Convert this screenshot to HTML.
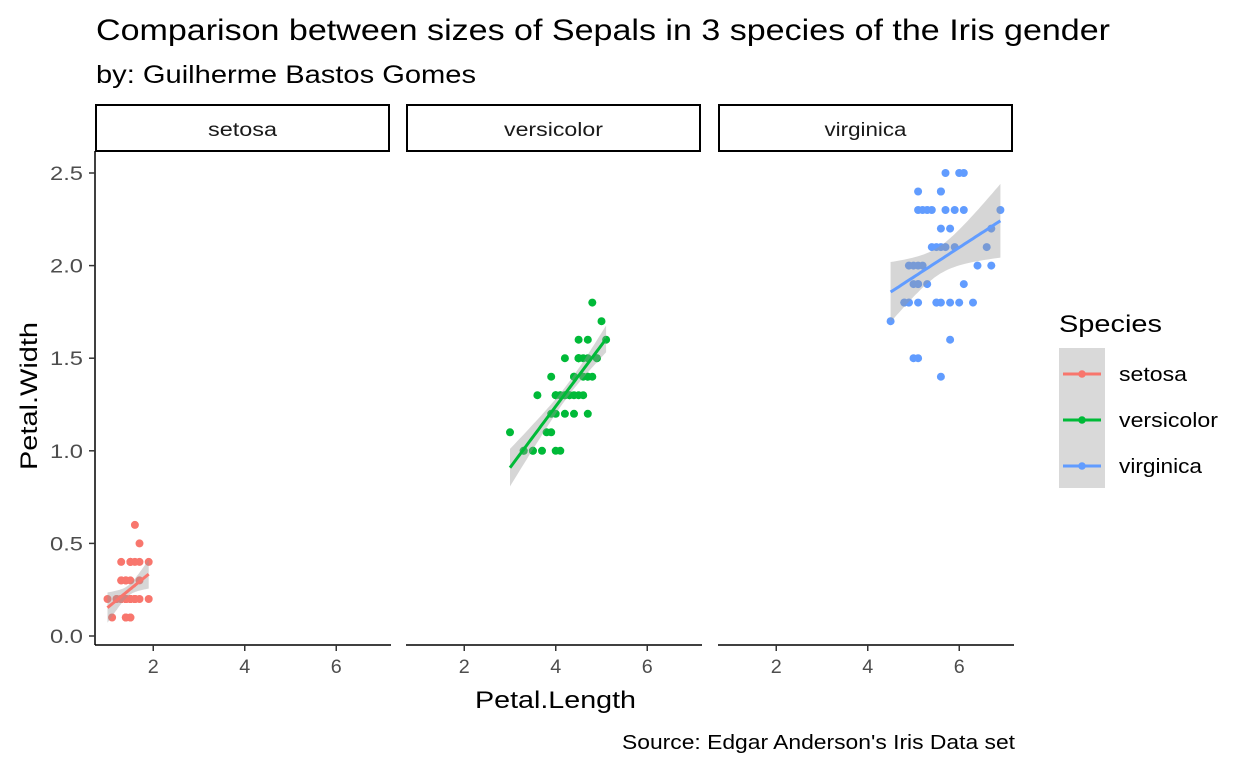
<!DOCTYPE html>
<html><head><meta charset="utf-8"><style>
html,body{margin:0;padding:0;background:#fff;}
svg{display:block;font-family:"Liberation Sans",Arial,sans-serif;}
</style></head><body>
<svg id="s" width="1248" height="768" viewBox="0 0 1248 768" xmlns="http://www.w3.org/2000/svg">
<rect width="1248" height="768" fill="#fff"/>
<text x="96" y="40" font-size="30" fill="#000" textLength="1014" lengthAdjust="spacingAndGlyphs">Comparison between sizes of Sepals in 3 species of the Iris gender</text>
<text x="96" y="83" font-size="25" fill="#000" textLength="380" lengthAdjust="spacingAndGlyphs">by: Guilherme Bastos Gomes</text>
<g id="panels"></g>
<text x="475" y="708" font-size="24" textLength="161" lengthAdjust="spacingAndGlyphs">Petal.Length</text>
<text transform="translate(37,470) rotate(-90)" font-size="24" textLength="148" lengthAdjust="spacingAndGlyphs">Petal.Width</text>
<text x="622" y="749" font-size="20" textLength="393" lengthAdjust="spacingAndGlyphs">Source: Edgar Anderson's Iris Data set</text>
<text x="1059" y="332" font-size="24" textLength="103" lengthAdjust="spacingAndGlyphs">Species</text>
<rect x="1059" y="348" width="46" height="140" fill="#d9d9d9"/>
<g stroke-width="3">
<line x1="1063" y1="374" x2="1101" y2="374" stroke="#F8766D"/><circle cx="1082" cy="374" r="3.8" fill="#F8766D"/>
<line x1="1063" y1="420" x2="1101" y2="420" stroke="#00BA38"/><circle cx="1082" cy="420" r="3.8" fill="#00BA38"/>
<line x1="1063" y1="466" x2="1101" y2="466" stroke="#619CFF"/><circle cx="1082" cy="466" r="3.8" fill="#619CFF"/>
</g>
<text x="1119" y="381" font-size="20" textLength="68" lengthAdjust="spacingAndGlyphs">setosa</text>
<text x="1119" y="427" font-size="20" textLength="99" lengthAdjust="spacingAndGlyphs">versicolor</text>
<text x="1119" y="473" font-size="20" textLength="83" lengthAdjust="spacingAndGlyphs">virginica</text>
</svg>
<script>
var S="1.4 0.2,1.4 0.2,1.3 0.2,1.5 0.2,1.4 0.2,1.7 0.4,1.4 0.3,1.5 0.2,1.4 0.2,1.5 0.1,1.5 0.2,1.6 0.2,1.4 0.1,1.1 0.1,1.2 0.2,1.5 0.4,1.3 0.4,1.4 0.3,1.7 0.3,1.5 0.3,1.7 0.2,1.5 0.4,1.0 0.2,1.7 0.5,1.9 0.2,1.6 0.2,1.6 0.4,1.5 0.2,1.4 0.2,1.6 0.2,1.6 0.2,1.5 0.4,1.5 0.1,1.4 0.2,1.5 0.2,1.2 0.2,1.3 0.2,1.4 0.1,1.3 0.2,1.5 0.2,1.3 0.3,1.3 0.3,1.3 0.2,1.6 0.6,1.9 0.4,1.4 0.3,1.6 0.2,1.4 0.2,1.5 0.2,1.4 0.2";
var V="4.7 1.4,4.5 1.5,4.9 1.5,4.0 1.3,4.6 1.5,4.5 1.3,4.7 1.6,3.3 1.0,4.6 1.3,3.9 1.4,3.5 1.0,4.2 1.5,4.0 1.0,4.7 1.4,3.6 1.3,4.4 1.4,4.5 1.5,4.1 1.0,4.5 1.5,3.9 1.1,4.8 1.8,4.0 1.3,4.9 1.5,4.7 1.2,4.3 1.3,4.4 1.4,4.8 1.4,5.0 1.7,4.5 1.5,3.5 1.0,3.8 1.1,3.7 1.0,3.9 1.2,5.1 1.6,4.5 1.5,4.5 1.6,4.7 1.5,4.4 1.3,4.1 1.3,4.0 1.3,4.4 1.2,4.6 1.4,4.0 1.2,3.3 1.0,4.2 1.3,4.2 1.2,4.2 1.3,4.3 1.3,3.0 1.1,4.1 1.3";
var G="6.0 2.5,5.1 1.9,5.9 2.1,5.6 1.8,5.8 2.2,6.6 2.1,4.5 1.7,6.3 1.8,5.8 1.8,6.1 2.5,5.1 2.0,5.3 1.9,5.5 2.1,5.0 2.0,5.1 2.4,5.3 2.3,5.5 1.8,6.7 2.2,6.9 2.3,5.0 1.5,5.7 2.3,4.9 2.0,6.7 2.0,4.9 1.8,5.7 2.1,6.0 1.8,4.8 1.8,4.9 1.8,5.6 2.1,5.8 1.6,6.1 1.9,6.4 2.0,5.6 2.2,5.1 1.5,5.6 1.4,6.1 2.3,5.6 2.4,5.5 1.8,4.8 1.8,5.4 2.1,5.6 2.4,5.1 2.3,5.1 1.9,5.9 2.3,5.7 2.5,5.2 2.3,5.0 1.9,5.2 2.0,5.4 2.3,5.1 1.8";
var data=[[S,"#F8766D","setosa",94,69],[V,"#00BA38","versicolor",405,99],[G,"#619CFF","virginica",717,82]];
var k=45.75,ky=185.2;
function Y(v){return 636-ky*v;}
var h="";
data.forEach(function(d,i){
 var x0=d[3],X=function(v){return x0+(v-0.705)*k;};
 var pts=d[0].split(",").map(function(p){return p.split(" ").map(Number);});
 var n=pts.length,mx=0,my=0;pts.forEach(function(p){mx+=p[0];my+=p[1];});mx/=n;my/=n;
 var sxx=0,sxy=0;pts.forEach(function(p){sxx+=(p[0]-mx)*(p[0]-mx);sxy+=(p[0]-mx)*(p[1]-my);});
 var b=sxy/sxx,a=my-b*mx,sse=0;pts.forEach(function(p){var r=p[1]-a-b*p[0];sse+=r*r;});
 var s=Math.sqrt(sse/(n-2));
 var lo=Math.min.apply(null,pts.map(function(p){return p[0];})),hi=Math.max.apply(null,pts.map(function(p){return p[0];}));
 var up=[],dn=[],ln=[];
 for(var j=0;j<=40;j++){var x=lo+(hi-lo)*j/40,yh=a+b*x,se=2.01*s*Math.sqrt(1/n+(x-mx)*(x-mx)/sxx);
  up.push(X(x).toFixed(1)+","+Y(yh+se).toFixed(1));dn.unshift(X(x).toFixed(1)+","+Y(yh-se).toFixed(1));ln.push(X(x).toFixed(1)+","+Y(yh).toFixed(1));}
 var pw=297;
 h+='<rect x="'+(x0+2)+'" y="105" width="'+(pw-4)+'" height="46" fill="#fff" stroke="#000" stroke-width="2"/>';
 h+='<text x="'+(x0+pw/2-d[4]/2)+'" y="136" font-size="19" fill="#1a1a1a" textLength="'+d[4]+'" lengthAdjust="spacingAndGlyphs">'+d[2]+'</text>';
 h+='<line x1="'+(x0+1)+'" y1="645" x2="'+(x0+pw)+'" y2="645" stroke="#000" stroke-width="1.5"/>';
 [2,4,6].forEach(function(t){var tx=X(t);h+='<line x1="'+tx+'" y1="645" x2="'+tx+'" y2="651" stroke="#333" stroke-width="1.5"/><text x="'+(tx-5.5)+'" y="673" font-size="19" fill="#4d4d4d" textLength="11" lengthAdjust="spacingAndGlyphs">'+t+'</text>';});
 pts.forEach(function(p){h+='<circle cx="'+X(p[0]).toFixed(1)+'" cy="'+Y(p[1]).toFixed(1)+'" r="4" fill="'+d[1]+'"/>';});
 h+='<polygon points="'+up.concat(dn).join(" ")+'" fill="#999" fill-opacity="0.4"/>';
 h+='<polyline points="'+ln.join(" ")+'" fill="none" stroke="'+d[1]+'" stroke-width="3"/>';
});
h+='<line x1="95" y1="151" x2="95" y2="645" stroke="#000" stroke-width="1.5"/>';
[0,0.5,1,1.5,2,2.5].forEach(function(t){var ty=Y(t);h+='<line x1="89" y1="'+ty+'" x2="95" y2="'+ty+'" stroke="#333" stroke-width="1.5"/><text x="50" y="'+(ty+7)+'" font-size="19" fill="#4d4d4d" textLength="33" lengthAdjust="spacingAndGlyphs">'+t.toFixed(1)+'</text>';});
document.getElementById("panels").innerHTML=h;
</script>
</body></html>
